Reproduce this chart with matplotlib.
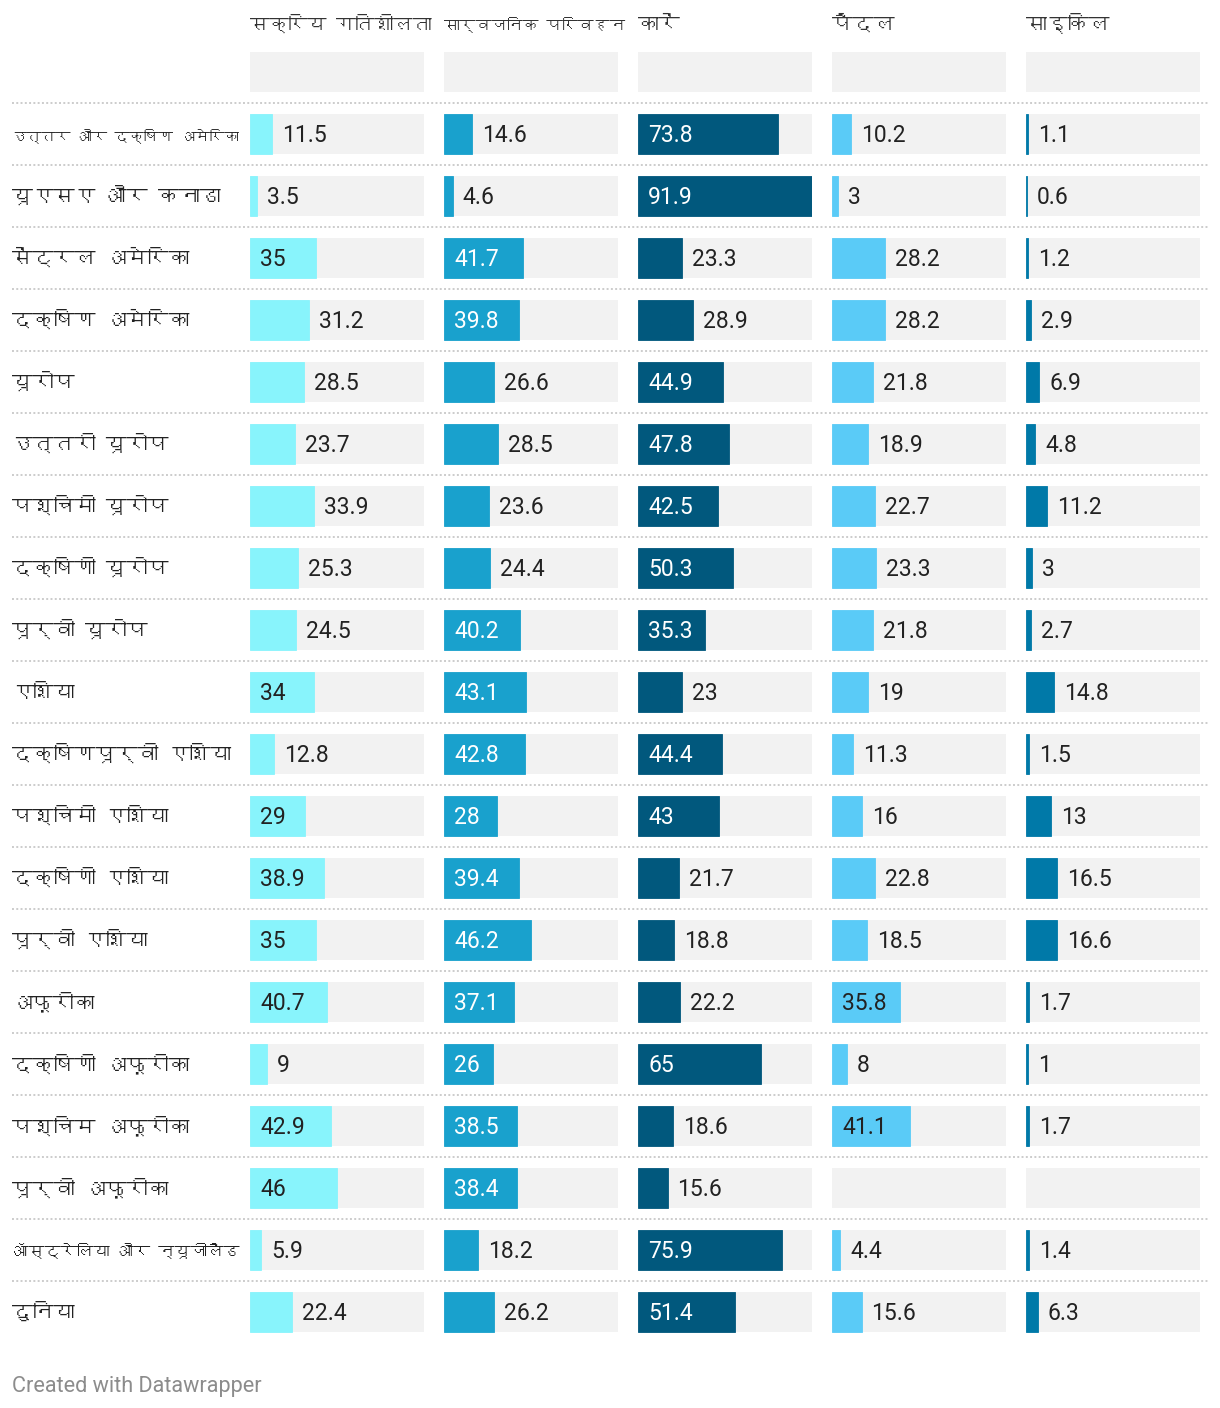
import matplotlib
matplotlib.use('Agg')
import matplotlib.pyplot as plt
from matplotlib import font_manager, transforms
from fontTools.ttLib import TTFont

regions = ['उत्तर और दक्षिण अमेरिका', 'यूएसए और कनाडा', 'सेंट्रल अमेरिका', 'दक्षिण अमेरिका',
           'यूरोप', 'उत्तरी यूरोप', 'पश्चिमी यूरोप', 'दक्षिणी यूरोप', 'पूर्वी यूरोप',
           'एशिया', 'दक्षिणपूर्वी एशिया', 'पश्चिमी एशिया', 'दक्षिणी एशिया', 'पूर्वी एशिया',
           'अफ़्रीका', 'दक्षिणी अफ़्रीका', 'पश्चिम अफ़्रीका', 'पूर्वी अफ़्रीका',
           'ऑस्ट्रेलिया और न्यूजीलैंड', 'दुनिया']
columns = ['सक्रिय गतिशीलता', 'सार्वजनिक परिवहन', 'कारें', 'पैदल', 'साइकिल']

active = [11.5, 3.5, 35, 31.2, 28.5, 23.7, 33.9, 25.3, 24.5, 34, 12.8, 29, 38.9, 35, 40.7, 9, 42.9, 46, 5.9, 22.4]
transit = [14.6, 4.6, 41.7, 39.8, 26.6, 28.5, 23.6, 24.4, 40.2, 43.1, 42.8, 28, 39.4, 46.2, 37.1, 26, 38.5, 38.4, 18.2, 26.2]
cars = [73.8, 91.9, 23.3, 28.9, 44.9, 47.8, 42.5, 50.3, 35.3, 23, 44.4, 43, 21.7, 18.8, 22.2, 65, 18.6, 15.6, 75.9, 51.4]
walking = [10.2, 3, 28.2, 28.2, 21.8, 18.9, 22.7, 23.3, 21.8, 19, 11.3, 16, 22.8, 18.5, 35.8, 8, 41.1, None, 4.4, 15.6]
cycling = [1.1, 0.6, 1.2, 2.9, 6.9, 4.8, 11.2, 3, 2.7, 14.8, 1.5, 13, 16.5, 16.6, 1.7, 1, 1.7, None, 1.4, 6.3]

series = [active, transit, cars, walking, cycling]
bar_colors = ['#88f4fc', '#19a1cd', '#01587d', '#5acbf7', '#0079a8']
inside_text = ['#222222', 'white', 'white', '#222222', 'white']


def find_deva_font():
    # look for any installed font that has Devanagari glyphs
    for f in font_manager.fontManager.ttflist:
        try:
            cmap = TTFont(f.fname, fontNumber=0, lazy=True).getBestCmap()
        except Exception:
            continue
        if cmap and 0x0915 in cmap:
            return f.name
    return None


deva = find_deva_font()
fams = ['Roboto', 'DejaVu Sans']
if deva:
    fams = [deva] + fams
plt.rcParams['font.family'] = fams

W, H = 1220, 1408
fig = plt.figure(figsize=(W / 100, H / 100), dpi=100)
renderer = fig.canvas.get_renderer()

bg = fig.add_axes([0, 0, 1, 1], zorder=0)
bg.set_xlim(0, W)
bg.set_ylim(H, 0)
bg.axis('off')

n = len(regions)
xmax = max(v for s in series for v in s if v is not None)
top, row_h = 41, 62
col_w, col_gap, col_x0 = 174, 20, 250

axes = []
for j in range(len(columns)):
    left = col_x0 + j * (col_w + col_gap)
    ax = fig.add_axes([left / W, 1 - (top + row_h * (n + 1)) / H, col_w / W, row_h * (n + 1) / H], zorder=1)
    ax.set_xlim(0, xmax)
    ax.set_ylim(n + 0.5, -0.5)
    ax.axis('off')
    axes.append(ax)


def fit_text(t, max_px):
    # shrink a text only if it runs wider than max_px
    w = t.get_window_extent(renderer).width
    if w > max_px:
        t.set_fontsize(t.get_fontsize() * max_px / w)


for j, ax in enumerate(axes):
    vals = series[j]
    rows = list(range(n + 1))
    ax.barh(rows, [xmax] * (n + 1), height=40 / row_h, color='#f2f2f2', linewidth=0)
    for i, v in enumerate(vals):
        if v is None:
            continue
        y = i + 1
        ax.barh(y, v, height=40 / row_h, color=bar_colors[j], linewidth=0.6, edgecolor=bar_colors[j])
        label = f'{v:g}'
        t = ax.annotate(label, (0, y), xytext=(7.2, -5.8), textcoords='offset points',
                        va='baseline', ha='left', fontsize=16.5, family='Roboto', color='#222222')
        tw = t.get_window_extent(renderer).width
        bar_px = v / xmax * col_w
        if tw + 21 < bar_px:
            t.set_color(inside_text[j])
        else:
            t.xy = (v, y)
    left = col_x0 + j * (col_w + col_gap)
    h = bg.text(left, 31, columns[j], fontsize=15, color='#333333', va='baseline', ha='left')
    fit_text(h, col_w + 8)

trans = transforms.blended_transform_factory(bg.transData, axes[0].transData)
for i, name in enumerate(regions):
    y = i + 1
    t = bg.text(12, y + 7 / row_h, name, transform=trans, fontsize=15, color='#222222',
                va='baseline', ha='left')
    fit_text(t, 228)

for i in range(n):
    bg.plot([12, 1208], [i + 0.5, i + 0.5], transform=trans, color='#cccccc',
            linewidth=1.4, linestyle=(0, (1, 1.2)), solid_capstyle='butt')

bg.text(12, 1392, 'Created with Datawrapper', fontsize=15.6, family='Roboto',
        color='#8c8c8c', va='baseline', ha='left')

fig.savefig('out.png', dpi=100)
